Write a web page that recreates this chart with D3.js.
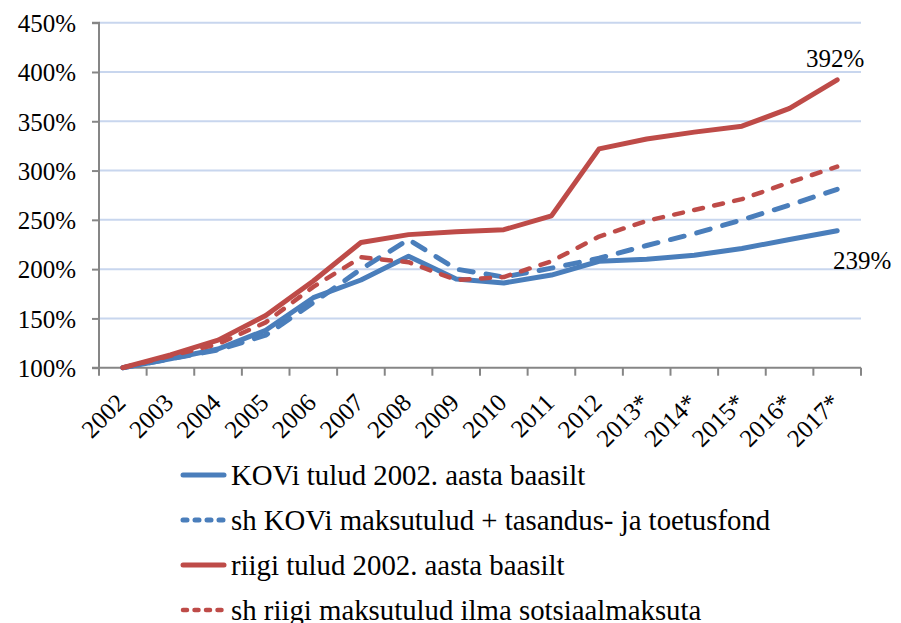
<!DOCTYPE html>
<html>
<head>
<meta charset="utf-8">
<script src="https://cdn.jsdelivr.net/npm/d3@7"></script>
<style>
  body { margin: 0; background: #fff; }
</style>
</head>
<body>
<div id="chart"></div>
<script>
// aastad ja tulude kasv (2002 = 100%)
const years = ['2002', '2003', '2004', '2005', '2006', '2007', '2008', '2009',
               '2010', '2011', '2012', '2013*', '2014*', '2015*', '2016*', '2017*'];

const kovTulud    = [100, 109, 119, 138, 171, 189, 213, 190, 186, 194, 208, 210, 214, 221, 230, 239];
const kovMaksud   = [100, 109, 118, 133, 166, 200, 230, 200, 192, 201, 211, 224, 236, 250, 265, 281];
const riigiTulud  = [100, 113, 128, 153, 188, 227, 235, 238, 240, 254, 322, 332, 339, 345, 363, 392];
const riigiMaksud = [100, 112, 124, 146, 182, 212, 207, 189, 192, 208, 233, 249, 260, 271, 288, 304];

const yTicks = [100, 150, 200, 250, 300, 350, 400, 450];

const seriesNames = [
    'KOVi tulud 2002. aasta baasilt',
    'sh KOVi maksutulud + tasandus- ja toetusfond',
    'riigi tulud 2002. aasta baasilt',
    'sh riigi maksutulud ilma sotsiaalmaksuta'
];

(function() {
    'use strict';

    const width = 901, height = 623;
    const plot = { left: 99, right: 861, top: 22.7, bottom: 367.7 };
    const blue = '#4a7ebb', red = '#be4b48';
    const serif = '"Liberation Serif", "Times New Roman", serif';

    const series = [
        { name: seriesNames[0], values: kovTulud,    color: blue, width: 5,   dash: null,     legendDash: null },
        { name: seriesNames[1], values: kovMaksud,   color: blue, width: 5,   dash: '14,13',  legendDash: '4,8' },
        { name: seriesNames[2], values: riigiTulud,  color: red,  width: 5,   dash: null,     legendDash: null },
        { name: seriesNames[3], values: riigiMaksud, color: red,  width: 4.5, dash: '9,11.5', legendDash: '4,7.5' }
    ];

    const svg = d3.select('#chart').append('svg')
        .attr('width', width)
        .attr('height', height);

    const x = d3.scaleBand()
        .domain(years)
        .range([plot.left, plot.right]);

    const y = d3.scaleLinear()
        .domain([100, 450])
        .range([plot.bottom, plot.top]);

    const cx = d => x(d) + x.bandwidth() / 2;

    // gridlines
    svg.append('g')
        .selectAll('line')
        .data(yTicks.slice(1))
        .enter()
        .append('line')
        .attr('x1', plot.left)
        .attr('x2', plot.right)
        .attr('y1', d => y(d))
        .attr('y2', d => y(d))
        .attr('stroke', '#c8d6ee')
        .attr('stroke-width', 2);

    // y axis
    const yAxis = svg.append('g')
        .attr('transform', `translate(${plot.left},0)`)
        .call(d3.axisLeft(y).tickValues(yTicks).tickFormat(d => d + '%').tickSize(7).tickPadding(16));
    yAxis.selectAll('line, path').attr('stroke', '#868686').attr('stroke-width', 2);
    yAxis.select('.domain').attr('d', `M-7,${plot.bottom}H0V${plot.top}H-7`);
    yAxis.selectAll('text')
        .style('font-family', serif)
        .style('font-size', '25px')
        .attr('fill', '#000')
        .attr('dy', '0.35em');

    // x axis
    const xAxis = svg.append('g')
        .attr('transform', `translate(0,${plot.bottom})`)
        .call(d3.axisBottom(x).tickSizeOuter(0).tickSize(0).tickFormat(''));
    xAxis.selectAll('path').attr('stroke', '#868686').attr('stroke-width', 2);
    xAxis.select('.domain').attr('d', `M${plot.left},0H${plot.right}`);

    // tick marks between categories
    const bounds = years.map(d => x(d)).concat([plot.right]);
    xAxis.append('g')
        .selectAll('line')
        .data(bounds)
        .enter()
        .append('line')
        .attr('x1', d => d)
        .attr('x2', d => d)
        .attr('y1', 0)
        .attr('y2', 8)
        .attr('stroke', '#868686')
        .attr('stroke-width', 2);

    // rotated year labels
    xAxis.append('g')
        .selectAll('text')
        .data(years)
        .enter()
        .append('text')
        .attr('transform', d => `translate(${cx(d) - 8},24) rotate(-45)`)
        .attr('text-anchor', 'end')
        .attr('dy', '0.7em')
        .attr('fill', '#000')
        .style('font-family', serif)
        .style('font-size', '25px')
        .text(d => d);

    // lines
    const line = d3.line()
        .x((d, i) => cx(years[i]))
        .y(d => y(d));

    svg.append('g')
        .selectAll('path')
        .data(series)
        .enter()
        .append('path')
        .attr('d', d => line(d.values))
        .attr('fill', 'none')
        .attr('stroke', d => d.color)
        .attr('stroke-width', d => d.width)
        .attr('stroke-dasharray', d => d.dash)
        .attr('stroke-linejoin', 'round')
        .attr('stroke-linecap', 'round');

    // end labels
    const last = years[years.length - 1];
    const lastIdx = years.length - 1;
    svg.append('text')
        .attr('x', cx(last) - 2)
        .attr('y', y(riigiTulud[lastIdx]) - 13)
        .attr('text-anchor', 'middle')
        .style('font-family', serif)
        .style('font-size', '25px')
        .text(riigiTulud[lastIdx] + '%');

    svg.append('text')
        .attr('x', cx(last) + 25)
        .attr('y', y(kovTulud[lastIdx]) + 38)
        .attr('text-anchor', 'middle')
        .style('font-family', serif)
        .style('font-size', '25px')
        .text(kovTulud[lastIdx] + '%');

    // legend
    const legend = svg.append('g')
        .attr('transform', 'translate(180,475)');

    const item = legend.selectAll('g')
        .data(series)
        .enter()
        .append('g')
        .attr('transform', (d, i) => `translate(0,${i * 45})`);

    item.append('line')
        .attr('x1', 3)
        .attr('x2', 44)
        .attr('stroke', d => d.color)
        .attr('stroke-width', d => d.width)
        .attr('stroke-dasharray', d => d.legendDash)
        .attr('stroke-linecap', 'round');

    item.append('text')
        .attr('x', 51)
        .attr('dy', '0.35em')
        .style('font-family', serif)
        .style('font-size', '28.8px')
        .text(d => d.name);
})();
</script>
</body>
</html>
